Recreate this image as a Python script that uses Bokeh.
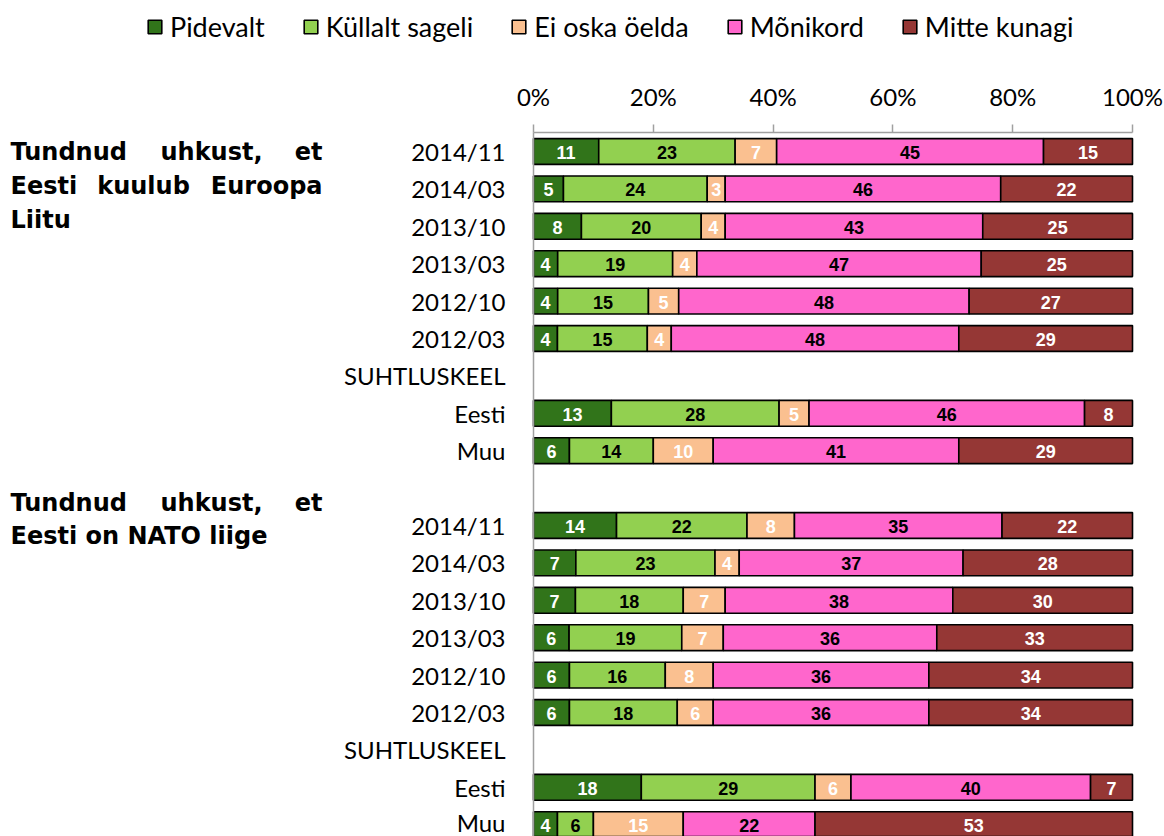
from bokeh.plotting import figure
from bokeh.models import (Range1d, LinearAxis, FixedTicker, Legend, LegendItem, Label,
                          ColumnDataSource, PrintfTickFormatter)
from bokeh.core.properties import value
from bokeh.embed import file_html
from bokeh.resources import INLINE

# ---------------- data ----------------
categories = ["Pidevalt", "Küllalt sageli", "Ei oska öelda", "Mõnikord", "Mitte kunagi"]
row_labels = ["2014/11", "2014/03", "2013/10", "2013/03", "2012/10", "2012/03", "SUHTLUSKEEL", "Eesti", "Muu", "",
              "2014/11", "2014/03", "2013/10", "2013/03", "2012/10", "2012/03", "SUHTLUSKEEL", "Eesti", "Muu"]
pidevalt = [11, 5, 8, 4, 4, 4, None, 13, 6, None, 14, 7, 7, 6, 6, 6, None, 18, 4]
kullalt = [23, 24, 20, 19, 15, 15, None, 28, 14, None, 22, 23, 18, 19, 16, 18, None, 29, 6]
ei_oska = [7, 3, 4, 4, 5, 4, None, 5, 10, None, 8, 4, 7, 7, 8, 6, None, 6, 15]
monikord = [45, 46, 43, 47, 48, 48, None, 46, 41, None, 35, 37, 38, 36, 36, 36, None, 40, 22]
mitte = [15, 22, 25, 25, 27, 29, None, 8, 29, None, 22, 28, 30, 33, 34, 34, None, 7, 53]
x_ticks = [0, 20, 40, 60, 80, 100]
group_titles = [["Tundnud", "uhkust,", "et"], ["Eesti", "kuulub", "Euroopa"], ["Liitu"],
                ["Tundnud", "uhkust,", "et"], ["Eesti on NATO liige"]]

series = [pidevalt, kullalt, ei_oska, monikord, mitte]
colors = ["#31741A", "#92D050", "#FAC090", "#FF66CC", "#953735"]
label_colors = ["white", "black", "white", "black", "white"]

# ---------------- layout constants (page px) ----------------
W, H = 1164, 836
X0, X100 = 533, 1132      # where 0% and 100% fall
ROW0, PITCH = 151, 37.4   # centre of first row and row pitch
AXIS_TOP = 132            # y of top axis line

def xd(px):
    return (px - X0) / (X100 - X0) * 100.0

def yd(py):
    return (py - ROW0) / PITCH

p = figure(width=W, height=H, output_backend="svg", toolbar_location=None,
           x_range=Range1d(xd(0), xd(W)), y_range=Range1d(yd(H), yd(0)),
           x_axis_location=None, y_axis_location=None,
           min_border_left=0, min_border_right=0, min_border_top=0, min_border_bottom=0)
p.outline_line_color = None
p.xgrid.visible = False
p.ygrid.visible = False
p.background_fill_color = "white"
p.border_fill_color = "white"

# stacked normalized bars
rows = [i for i in range(len(row_labels)) if pidevalt[i] is not None]
totals = {i: sum(s[i] for s in series) for i in rows}
cum = {i: 0.0 for i in rows}
renderers = []
for k, s in enumerate(series):
    ys, lefts, rights, txt, xc = [], [], [], [], []
    for i in rows:
        l = cum[i] / totals[i] * 100
        cum[i] += s[i]
        r = cum[i] / totals[i] * 100
        ys.append(i); lefts.append(l); rights.append(r); txt.append(str(s[i])); xc.append((l + r) / 2)
    src = ColumnDataSource(dict(y=ys, left=lefts, right=rights, txt=txt, xc=xc))
    rr = p.hbar(y="y", left="left", right="right", height=0.69, source=src,
                fill_color=colors[k], line_color="black", line_width=1.6)
    renderers.append(rr)
    p.text(x="xc", y="y", text="txt", source=src, text_color=label_colors[k],
           text_font=value("Liberation Sans"), text_font_style="bold", text_font_size="18px",
           text_align="center", text_baseline="middle", y_offset=1)

# top axis (fixed at the top of the bar area)
ax_top = LinearAxis(ticker=FixedTicker(ticks=x_ticks), formatter=PrintfTickFormatter(format="%d%%"),
                    fixed_location=yd(AXIS_TOP), bounds=(0, 100))
ax_top.axis_line_color = "#A0A0A0"
ax_top.axis_line_width = 1.5
ax_top.major_tick_line_color = "#A0A0A0"
ax_top.major_tick_line_width = 1.5
ax_top.major_tick_out = 8
ax_top.major_tick_in = 0
ax_top.minor_tick_line_color = None
ax_top.major_label_standoff = 14
ax_top.major_label_text_font = "Lato"
ax_top.major_label_text_font_size = "24px"
ax_top.major_label_text_color = "black"
p.add_layout(ax_top, "above")

# left axis with row labels (fixed at 0%)
ax_left = LinearAxis(ticker=FixedTicker(ticks=list(range(len(row_labels)))),
                     major_label_overrides={i: lab for i, lab in enumerate(row_labels)},
                     fixed_location=0, bounds=(yd(AXIS_TOP), yd(H)))
ax_left.axis_line_color = "#A0A0A0"
ax_left.axis_line_width = 1.5
ax_left.major_tick_line_color = None
ax_left.major_tick_out = 0
ax_left.major_tick_in = 0
ax_left.minor_tick_line_color = None
ax_left.major_label_standoff = 28
ax_left.major_label_text_font = "Lato"
ax_left.major_label_text_font_size = "24px"
ax_left.major_label_text_color = "black"
p.add_layout(ax_left, "left")

# legend
legend = Legend(items=[LegendItem(label=c, renderers=[r]) for c, r in zip(categories, renderers)],
                orientation="horizontal", location=(146, 793),
                glyph_width=17, glyph_height=17, label_standoff=7, spacing=37, label_height=32,
                padding=0, margin=0, border_line_color=None, background_fill_alpha=0,
                label_text_font="Lato", label_text_font_size="27px", label_text_color="black")
p.add_layout(legend, "center")

# group titles (justified lines)
def title_line(words, py, pos):
    for w, (px, align) in zip(words, pos):
        p.add_layout(Label(x=xd(px), y=yd(py), text=w, text_font="DejaVu Sans", text_font_style="bold",
                           text_font_size="24px", text_align=align, text_baseline="alphabetic",
                           text_color="black"))

just3 = [(10, "left"), (211, "center"), (322, "right")]
just3b = [(10, "left"), (143, "center"), (322, "right")]
title_line(group_titles[0], 151, just3)
title_line(group_titles[1], 185, just3b)
title_line(group_titles[2], 219, [(10, "left")])
title_line(group_titles[3], 502, just3)
title_line(group_titles[4], 535, [(10, "left")])

open("out.html", "w").write(file_html(p, INLINE))
